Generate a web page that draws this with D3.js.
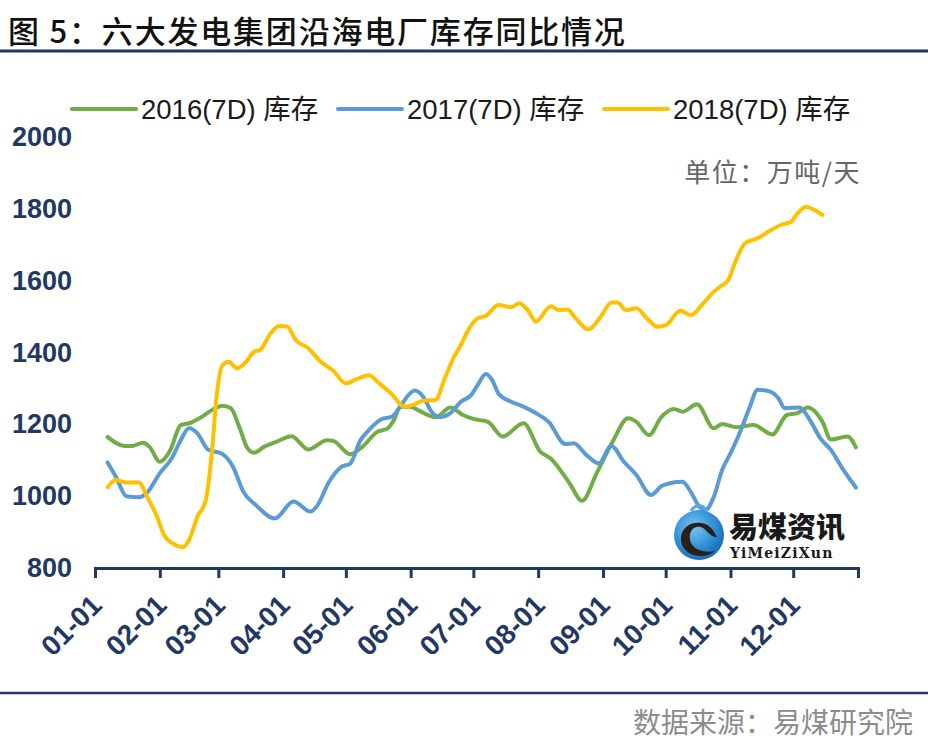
<!DOCTYPE html>
<html>
<head>
<meta charset="utf-8">
<script src="https://cdn.jsdelivr.net/npm/d3@7/dist/d3.min.js"></script>
<style>
  body { margin: 0; background: #fff; }
  svg { display: block; }
</style>
</head>
<body>
<script>
// 图5 数据（单位：万吨/天），日期按 MM-DD 读取
const seriesNames = ["2016(7D) 库存", "2017(7D) 库存", "2018(7D) 库存"];
const seriesColors = ["#70AD47", "#5B9BD5", "#FFC000"];
const monthTicks = ["01-01", "02-01", "03-01", "04-01", "05-01", "06-01",
  "07-01", "08-01", "09-01", "10-01", "11-01", "12-01"];
const yTicks = [800, 1000, 1200, 1400, 1600, 1800, 2000];

const dates2016 = ["01-07","01-15","01-19","01-24","01-27","02-01","02-06","02-11","02-15","02-20",
  "02-26","03-03","03-07","03-11","03-15","03-18","03-23","03-29","04-05","04-13",
  "04-22","04-25","05-03","05-09","05-16","05-21","05-24","05-27","06-01","06-05",
  "06-13","06-20","06-26","07-01","07-08","07-15","07-25","08-02","08-07","08-16",
  "08-22","08-29","09-06","09-13","09-17","09-23","09-29","10-05","10-09","10-16",
  "10-24","10-28","11-04","11-12","11-21","11-28","12-03","12-08","12-15","12-19",
  "12-27","12-31"];
const values2016 = [1165,1140,1140,1149,1138,1096,1128,1198,1203,1217,
  1240,1252,1245,1193,1133,1121,1138,1152,1167,1130,
  1156,1154,1117,1138,1179,1189,1212,1249,1249,1238,
  1220,1247,1226,1215,1207,1166,1203,1124,1105,1036,
  987,1064,1156,1217,1207,1170,1221,1243,1235,1256,
  1189,1201,1192,1198,1172,1226,1231,1247,1207,1158,
  1166,1136];

const dates2017 = ["01-07","01-11","01-16","01-22","01-26","02-01","02-07","02-11","02-15","02-19",
  "02-24","03-03","03-08","03-13","03-19","03-28","04-06","04-14","04-17","04-23",
  "04-29","05-03","05-08","05-12","05-18","05-23","05-27","05-31","06-03","06-07",
  "06-11","06-15","06-20","06-25","06-30","07-03","07-07","07-10","07-13","07-19",
  "07-23","07-31","08-06","08-14","08-18","08-24","08-30","09-05","09-11","09-17",
  "09-24","09-29","10-03","10-09","10-13","10-17","10-20","10-24","10-28","11-01",
  "11-06","11-10","11-14","11-20","11-24","11-27","12-04","12-09","12-14","12-19",
  "12-25","12-31"];
const values2017 = [1094,1054,1000,997,1010,1064,1108,1156,1189,1175,
  1130,1117,1082,1012,975,938,985,957,971,1040,
  1082,1090,1156,1184,1214,1221,1249,1282,1294,1277,
  1235,1220,1231,1263,1282,1309,1340,1323,1286,1263,
  1254,1231,1207,1145,1147,1115,1091,1140,1096,1059,
  1003,1028,1036,1040,1012,971,961,998,1073,1119,
  1184,1245,1296,1291,1272,1245,1247,1212,1161,1129,
  1073,1024];

const dates2018 = ["01-07","01-11","01-16","01-22","01-26","01-31","02-03","02-07","02-12","02-15",
  "02-19","02-23","02-26","02-28","03-03","03-06","03-10","03-15","03-18","03-21",
  "03-26","03-30","04-03","04-07","04-13","04-19","04-25","05-01","05-06","05-12",
  "05-17","05-23","05-29","06-02","06-07","06-13","06-17","06-21","06-25","06-29",
  "07-03","07-07","07-13","07-19","07-23","07-27","07-31","08-07","08-11","08-15",
  "08-19","08-25","08-31","09-05","09-08","09-12","09-17","09-22","09-27","10-01",
  "10-08","10-13","10-19","10-24","10-27","10-31","11-03","11-08","11-14","11-19",
  "11-25","11-30","12-03","12-07","12-11","12-15"];
const values2018 = [1025,1045,1038,1038,998,938,892,869,858,878,
  943,989,1128,1268,1365,1374,1356,1379,1402,1407,
  1453,1474,1472,1435,1412,1374,1349,1314,1325,1337,
  1314,1284,1249,1254,1266,1268,1323,1379,1421,1467,
  1495,1502,1532,1526,1537,1518,1486,1529,1518,1520,
  1495,1464,1500,1539,1539,1518,1523,1495,1472,1476,
  1516,1504,1537,1569,1583,1602,1648,1704,1718,1736,
  1755,1764,1787,1806,1797,1783];

function initializeChart() {
  const width = 928, height = 752;
  const navy = "#1F3864";
  const parse = d3.timeParse("%Y-%m-%d");
  const toDate = s => parse("2017-" + s);

  const series = [
    {name: seriesNames[0], color: seriesColors[0], points: dates2016.map((d, i) => [toDate(d), values2016[i]])},
    {name: seriesNames[1], color: seriesColors[1], points: dates2017.map((d, i) => [toDate(d), values2017[i]])},
    {name: seriesNames[2], color: seriesColors[2], points: dates2018.map((d, i) => [toDate(d), values2018[i]])}
  ];

  const svg = d3.select("body").append("svg")
    .attr("width", width)
    .attr("height", height)
    .style("font-family", "'Liberation Sans', Arial, 'Noto Sans CJK SC', sans-serif");

  svg.append("rect").attr("width", width).attr("height", height).attr("fill", "#fff");

  // 标题
  svg.append("text")
    .attr("x", 8).attr("y", 43)
    .attr("font-family", "'Noto Sans CJK SC', sans-serif")
    .attr("font-size", 31).attr("font-weight", 500)
    .attr("letter-spacing", 1.8)
    .attr("fill", "#111")
    .text("图 5：六大发电集团沿海电厂库存同比情况");

  svg.append("line").attr("x1", 0).attr("x2", width).attr("y1", 51).attr("y2", 51)
    .attr("stroke", navy).attr("stroke-width", 3);

  svg.append("line").attr("x1", 0).attr("x2", width).attr("y1", 693).attr("y2", 693)
    .attr("stroke", navy).attr("stroke-width", 2.5);

  svg.append("text")
    .attr("x", 913).attr("y", 733)
    .attr("text-anchor", "end")
    .attr("font-family", "'Noto Sans CJK SC', sans-serif")
    .attr("font-size", 28).attr("fill", "#8c8c8c")
    .text("数据来源：易煤研究院");

  // 比例尺
  const x = d3.scaleTime()
    .domain([toDate("01-01"), parse("2018-01-01")])
    .range([95, 858]);
  const y = d3.scaleLinear()
    .domain([800, 2000])
    .range([568, 137]);

  // Y 轴
  const yAxis = svg.append("g")
    .attr("transform", "translate(95,0)")
    .call(d3.axisLeft(y).tickValues(yTicks).tickSize(0).tickPadding(23).tickFormat(d3.format("d")));
  yAxis.select(".domain").remove();
  yAxis.selectAll("text")
    .attr("font-family", "'Liberation Sans', Arial, sans-serif")
    .attr("font-size", 27).attr("font-weight", "bold")
    .attr("fill", navy);

  // X 轴
  const xTickDates = monthTicks.map(toDate).concat([parse("2018-01-01")]);
  const xAxis = svg.append("g")
    .attr("transform", "translate(0,568)")
    .call(d3.axisBottom(x).tickValues(xTickDates).tickSize(10)
      .tickFormat((d, i) => i < monthTicks.length ? monthTicks[i] : ""));
  xAxis.select(".domain").attr("stroke", navy).attr("stroke-width", 3);
  xAxis.selectAll(".tick line").attr("stroke", navy).attr("stroke-width", 3);
  xAxis.selectAll(".tick text")
    .attr("font-family", "'Liberation Sans', Arial, sans-serif")
    .attr("font-size", 28).attr("font-weight", "bold")
    .attr("fill", navy)
    .attr("text-anchor", "end")
    .attr("transform", "translate(1,32) rotate(-45)")
    .attr("dy", "0.35em").attr("y", 0).attr("x", 0);

  // 折线
  const line = d3.line()
    .x(d => x(d[0]))
    .y(d => y(d[1]))
    .curve(d3.curveMonotoneX);

  svg.selectAll(".series")
    .data(series)
    .enter().append("path")
    .attr("class", "series")
    .attr("fill", "none")
    .attr("stroke", d => d.color)
    .attr("stroke-width", 4)
    .attr("stroke-linejoin", "round")
    .attr("stroke-linecap", "round")
    .attr("d", d => line(d.points));

  // 图例
  const legendX = [72, 338, 604];
  const legend = svg.selectAll(".legend")
    .data(series)
    .enter().append("g")
    .attr("class", "legend")
    .attr("transform", (d, i) => "translate(" + legendX[i] + ",109)");
  legend.append("line")
    .attr("x1", 0).attr("x2", 64)
    .attr("stroke", d => d.color).attr("stroke-width", 4)
    .attr("stroke-linecap", "round");
  legend.append("text")
    .attr("x", 69).attr("dy", "0.36em")
    .attr("font-family", "'Liberation Sans', Arial, 'Noto Sans CJK SC', sans-serif")
    .attr("font-size", 27.5).attr("fill", "#1a1a1a")
    .text(d => d.name);

  // 单位
  svg.append("text")
    .attr("x", 861).attr("y", 182)
    .attr("text-anchor", "end")
    .attr("font-family", "'Noto Sans CJK SC', sans-serif")
    .attr("font-size", 26).attr("letter-spacing", 1.5).attr("fill", "#666")
    .text("单位：万吨/天");

  // 水印标志
  const defs = svg.append("defs");
  const grad = defs.append("radialGradient").attr("id", "logoGrad")
    .attr("cx", "40%").attr("cy", "35%").attr("r", "70%");
  grad.append("stop").attr("offset", "0%").attr("stop-color", "#7cc4f0");
  grad.append("stop").attr("offset", "60%").attr("stop-color", "#2f8fd6");
  grad.append("stop").attr("offset", "100%").attr("stop-color", "#1566b0");

  const logo = svg.append("g").attr("transform", "translate(699,535)");
  logo.append("circle").attr("r", 25).attr("fill", "url(#logoGrad)");
  logo.append("path")
    .attr("d", "M2,-12 C-14,-14 -22,0 -16,12 C-10,22 6,24 16,16 C8,18 -4,16 -8,8 C-12,-2 -6,-10 2,-8 C8,-6 10,2 18,2 C14,-6 10,-11 2,-12 Z")
    .attr("fill", "#2b1f1a");
  logo.append("path")
    .attr("d", "M-8,-24 C-4,-31 4,-31 8,-24")
    .attr("fill", "none").attr("stroke", "#5aa9e0").attr("stroke-width", 3);

  svg.append("text")
    .attr("x", 729).attr("y", 538)
    .attr("font-family", "'Noto Sans CJK SC', sans-serif")
    .attr("font-size", 29).attr("font-weight", 900)
    .attr("fill", "#1a1a1a")
    .text("易煤资讯");
  svg.append("text")
    .attr("x", 730).attr("y", 558)
    .attr("font-family", "'DejaVu Serif', serif")
    .attr("font-size", 14).attr("font-weight", "bold")
    .attr("letter-spacing", 1.2)
    .attr("fill", "#1a1a1a")
    .text("YiMeiZiXun");
}

window.onload = initializeChart;
</script>
</body>
</html>
